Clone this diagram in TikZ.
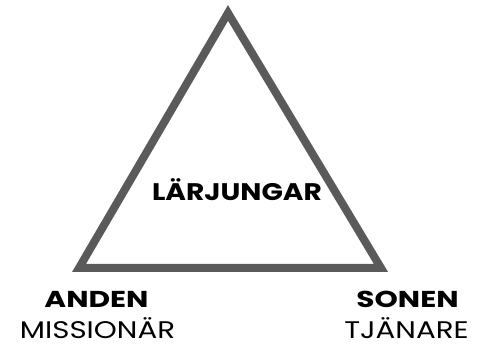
\documentclass[tikz,border=0pt]{standalone}
\usepackage{fontspec}
\setmainfont{Poppins}
\definecolor{tri}{HTML}{5A5A5A}
\newcommand{\wide}[2][1.17]{\scalebox{#1}[1]{#2}}
\tikzset{
  lbl/.style={inner sep=0pt, anchor=base, text=black, text depth=0pt},
  boldlbl/.style={lbl, font=\fontsize{23}{23}\selectfont\bfseries},
  reglbl/.style={lbl, font=\fontsize{24}{24}\selectfont},
  centerlbl/.style={lbl, font=\fontsize{24}{24}\selectfont\bfseries},
}
\begin{document}
\begin{tikzpicture}[x=1pt,y=-1pt]
\useasboundingbox (0,0) rectangle (487,344);
\coordinate (top) at (228,13);
\coordinate (bl) at (79,268);
\coordinate (br) at (381,268);
\draw[tri, line width=8pt, line join=miter] (top) -- (bl) -- (br) -- cycle;
\node[centerlbl] (center) at (237,201) {\wide{LÄRJUNGAR}};
\node[boldlbl] (anden) at (96.5,308) {\wide[1.29]{ANDEN}};
\node[reglbl] (miss) at (97.5,338) {\wide[1.22]{MISSIONÄR}};
\node[boldlbl] (sonen) at (407.5,308) {\wide[1.29]{SONEN}};
\node[reglbl] (tjan) at (406.5,338) {\wide[1.22]{TJÄNARE}};
\end{tikzpicture}
\end{document}
